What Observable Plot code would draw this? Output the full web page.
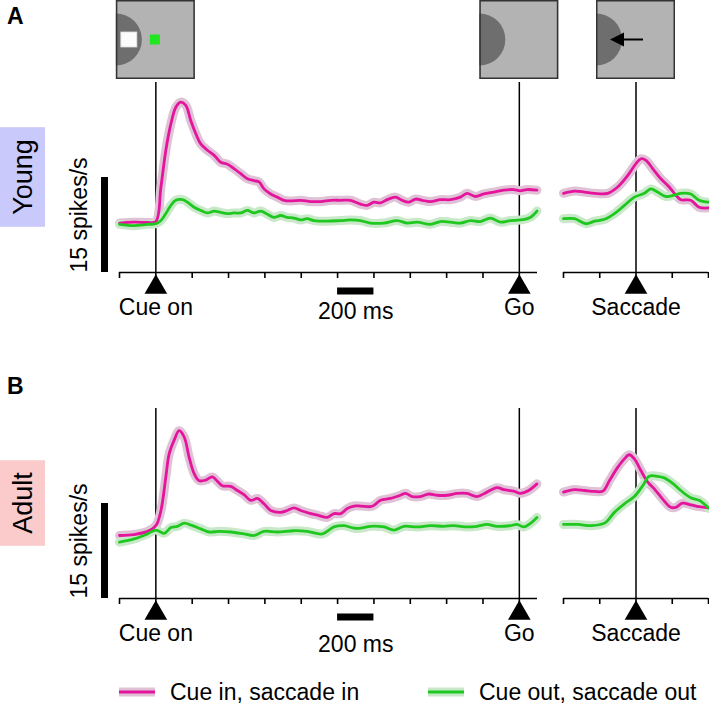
<!DOCTYPE html>
<html><head><meta charset="utf-8">
<script src="https://cdn.jsdelivr.net/npm/d3@7"></script>
<script src="https://cdn.jsdelivr.net/npm/@observablehq/plot@0.6"></script>
<style>
body{margin:0;background:#fff;}
#fig{position:relative;width:709px;height:708px;overflow:hidden;font-family:"Liberation Sans",Arial,sans-serif;background:#fff;}
#fig g[aria-label^="x-axis"] path,#fig g[aria-label^="x-axis"] line{stroke-width:1.6px;stroke:#000;}
</style>
</head><body><div id="fig"></div>
<script>
// ---------- data (time in ms, firing rate in spikes/s, arbitrary offset) ----------
const mainTicks = [-200, 0, 200, 400, 600, 800, 1000, 1200, 1400, 1600, 1800, 2000];
const saccTicks = [-400, -200, 0, 200, 400];
const mainEvents = [{t: 0, label: "Cue on"}, {t: 2000, label: "Go"}];
const saccEvents = [{t: 0, label: "Saccade"}];
const spikeBar = {value: 15, label: "15 spikes/s"};
const timeBar = {start: 1000, length: 200, label: "200 ms"};
const seriesNames = ["Cue in, saccade in", "Cue out, saccade out"];
const groupNames = ["Young", "Adult"];
const panelLetters = ["A", "B"];

const youngCueInMain = [
[-200,7.8],[-119,7.95],[-46,7.9],[0,8.05],[28,13.5],[55,19.3],[83,23.5],[110,26.1],[137,26.9],[165,26.4],[192,24.0],[220,21.9],[247,20.3],[284,19.3],[321,18.5],[357,17.4],[394,17.1],[430,16.4],[467,15.6],[504,14.8],[540,14.5],[568,14.3],[595,13.2],[632,12.4],[668,11.9],[705,11.4],[742,11.3],[797,11.4],[852,11.2],[907,11.2],[962,11.4],[1017,11.4],[1071,11.4],[1126,10.8],[1163,10.6],[1200,11.1],[1236,11.0],[1273,11.5],[1319,11.9],[1355,11.4],[1392,11.1],[1429,11.6],[1465,11.4],[1511,11.2],[1566,11.5],[1621,11.5],[1676,11.9],[1712,12.5],[1758,12.0],[1804,12.4],[1859,12.7],[1914,13.0],[1969,13.1],[2005,12.9],[2042,13.1],[2097,13.0]];
const youngCueOutMain = [
[-200,7.6],[-119,7.4],[-46,7.6],[0,7.7],[28,8.2],[55,9.3],[83,10.6],[110,11.4],[147,11.5],[174,11.1],[211,10.3],[247,9.8],[284,9.4],[321,9.7],[357,9.5],[394,9.3],[430,9.4],[467,9.4],[504,9.8],[540,9.4],[577,9.7],[614,9.2],[650,8.7],[687,9.0],[723,8.7],[760,8.6],[797,8.3],[833,8.5],[870,8.2],[943,8.1],[1017,8.2],[1071,8.3],[1126,8.2],[1181,7.8],[1255,7.8],[1328,8.2],[1383,7.8],[1438,7.95],[1511,7.6],[1566,8.05],[1621,7.95],[1676,7.8],[1731,8.2],[1786,8.05],[1841,8.6],[1896,7.95],[1951,8.2],[2006,8.3],[2060,8.7],[2097,9.7]];
const youngCueInSacc = [
[-400,12.5],[-339,12.85],[-284,12.7],[-229,12.5],[-156,12.5],[-101,13.5],[-46,15.3],[0,17.2],[27,17.95],[55,17.7],[92,16.4],[137,14.8],[183,13.5],[220,12.2],[247,11.5],[302,11.4],[348,10.3],[400,10.2]];
const youngCueOutSacc = [
[-400,8.5],[-339,8.5],[-275,7.7],[-229,8.1],[-174,8.4],[-119,9.3],[-64,10.6],[-9,11.9],[46,12.5],[82,13.2],[119,12.7],[165,12.0],[211,12.2],[247,12.5],[302,12.4],[348,11.4],[400,11.1]];
const adultCueInMain = [
[-200,9.95],[-119,10.1],[-46,10.6],[0,11.5],[28,13.9],[55,19.2],[73,22.8],[101,25.0],[128,26.5],[156,25.5],[183,22.3],[211,19.7],[238,18.6],[275,18.7],[311,19.2],[339,18.5],[366,17.8],[412,17.7],[449,17.05],[485,16.4],[522,15.5],[559,15.8],[595,14.95],[632,13.9],[687,13.6],[723,13.9],[760,14.3],[797,13.9],[852,13.4],[897,13.1],[943,12.8],[980,13.4],[1017,13.4],[1053,14.2],[1090,14.6],[1126,14.6],[1181,14.5],[1200,14.7],[1236,15.5],[1291,15.8],[1346,16.3],[1374,16.6],[1410,16.1],[1456,16.1],[1502,16.5],[1548,16.3],[1603,16.3],[1658,16.6],[1712,16.6],[1767,16.1],[1822,16.8],[1877,17.5],[1914,17.2],[1969,16.95],[2006,16.6],[2051,17.05],[2097,18.1]];
const adultCueOutMain = [
[-200,8.9],[-119,9.4],[-46,10.2],[0,10.8],[46,10.3],[83,11.2],[119,11.4],[156,11.9],[201,11.5],[247,11.0],[293,10.5],[348,10.6],[412,10.5],[485,10.2],[540,9.95],[595,10.6],[669,10.5],[760,10.7],[833,10.6],[916,10.2],[980,11.3],[1035,11.5],[1090,11.1],[1126,11.1],[1181,11.4],[1255,11.3],[1310,10.8],[1365,11.4],[1438,11.3],[1511,11.5],[1584,11.4],[1639,11.5],[1712,11.3],[1767,11.4],[1822,11.7],[1877,11.4],[1951,11.5],[1987,11.7],[2024,11.3],[2070,12.05],[2097,12.8]];
const adultCueInSacc = [
[-400,16.8],[-339,17.2],[-284,17.05],[-229,16.9],[-183,16.95],[-147,18.6],[-101,20.7],[-64,22.05],[-37,22.7],[-9,22.05],[27,20.2],[64,18.4],[101,17.3],[147,15.7],[192,14.4],[220,14.4],[256,15.05],[302,14.8],[348,14.5],[400,14.3]];
const adultCueOutSacc = [
[-400,11.7],[-321,11.7],[-247,11.5],[-174,11.9],[-119,13.6],[-64,14.95],[-9,16.1],[37,17.8],[73,19.3],[119,19.3],[156,19.05],[201,18.2],[247,17.05],[302,15.9],[348,15.5],[400,14.3]];

// ---------- styles ----------
const FONT = '"Liberation Sans", Arial, sans-serif';
const IN_COLOR = "#e4149c", IN_BAND = "#dfc2d6";
const OUT_COLOR = "#1fc81f", OUT_BAND = "#c9e8c9";
const fig = document.getElementById("fig");

function curveMarks(cueIn, cueOut) {
  const o = {x: d => d[0], y: d => d[1], curve: "catmull-rom"};
  return [
    Plot.line(cueIn, {...o, stroke: IN_BAND, strokeWidth: 9}),
    Plot.line(cueOut, {...o, stroke: OUT_BAND, strokeWidth: 9}),
    Plot.line(cueIn, {...o, stroke: IN_COLOR, strokeWidth: 2.8}),
    Plot.line(cueOut, {...o, stroke: OUT_COLOR, strokeWidth: 2.8})
  ];
}
function eventMarks(events) {
  return [
    Plot.dot(events, {x: "t", y: () => 0, symbol: "triangle", r: 8.4, fill: "black", dy: 14.7}),
    Plot.text(events, {x: "t", y: () => 0, text: "label", dy: 35, fontSize: 23, fill: "black"})
  ];
}
const common = {
  height: 335, marginTop: 82, marginBottom: 63,
  y: {domain: [0, 30], axis: null},
  style: {background: "transparent", overflow: "visible", fontFamily: FONT, color: "black"}
};
function mainPlot(cueIn, cueOut, msDy) {
  return Plot.plot({
    ...common, width: 545, marginLeft: 119, marginRight: 8,
    x: {domain: [-200, 2100], ticks: mainTicks, tickSize: 6, tickFormat: () => "", label: null},
    marks: [
      Plot.ruleX(mainEvents, {x: "t", stroke: "black", strokeWidth: 1.5}),
      Plot.ruleY([0], {stroke: "black", strokeWidth: 1.6}),
      ...curveMarks(cueIn, cueOut),
      ...eventMarks(mainEvents),
      Plot.ruleX([spikeBar], {x: () => -200, y1: () => 0, y2: d => d.value, dx: -15, stroke: "black", strokeWidth: 7}),
      Plot.text([spikeBar], {x: () => -200, y: () => 0, text: "label", rotate: -90, textAnchor: "start", dx: -40, fontSize: 23, fill: "black"}),
      Plot.ruleY([timeBar], {y: () => 0, x1: d => d.start, x2: d => d.start + d.length, dy: 18.5, stroke: "black", strokeWidth: 7}),
      Plot.text([timeBar], {x: d => d.start + d.length / 2, y: () => 0, text: "label", dy: msDy, fontSize: 23, fill: "black"})
    ]
  });
}
function saccPlot(cueIn, cueOut) {
  return Plot.plot({
    ...common, width: 156, marginLeft: 10, marginRight: 1,
    x: {domain: [-400, 400], ticks: saccTicks, tickSize: 6, tickFormat: () => "", label: null},
    marks: [
      Plot.ruleX(saccEvents, {x: "t", stroke: "black", strokeWidth: 1.5}),
      Plot.ruleY([0], {stroke: "black", strokeWidth: 1.6}),
      ...curveMarks(cueIn, cueOut),
      ...eventMarks(saccEvents)
    ]
  });
}
function place(svg, left, top) {
  svg.style.position = "absolute";
  svg.style.left = left + "px";
  svg.style.top = top + "px";
  fig.appendChild(svg);
  return svg;
}
const SACC_LEFT = 553, B_TOP = 326;
const pAm = place(mainPlot(youngCueInMain, youngCueOutMain, 39.5), 0, 0);
const pAs = place(saccPlot(youngCueInSacc, youngCueOutSacc), SACC_LEFT, 0);
const pBm = place(mainPlot(adultCueInMain, adultCueOutMain, 46), 0, B_TOP);
const pBs = place(saccPlot(adultCueInSacc, adultCueOutSacc), SACC_LEFT, B_TOP);

// ---------- overlay: insets, group labels, letters, legend ----------
const ov = d3.select(fig).append("svg").attr("width", 709).attr("height", 708)
  .style("position", "absolute").style("left", "0px").style("top", "0px")
  .style("font-family", FONT);

function inset(cx, kind) {
  const s = 79, g = ov.append("g").attr("transform", `translate(${cx - s / 2},0)`);
  g.append("rect").attr("x", 0).attr("y", 0).attr("width", s).attr("height", s).attr("fill", "#b3b3b3");
  g.append("path").attr("d", `M0,${s / 2 - 26} A26,26 0 0 1 0,${s / 2 + 26} Z`).attr("fill", "#6e6e6e");
  if (kind === "cue") {
    g.append("rect").attr("x", 5).attr("y", 32).attr("width", 16).attr("height", 15).attr("fill", "#fbfbfb").attr("stroke", "#ddd").attr("stroke-width", 0.8);
    g.append("rect").attr("x", 34).attr("y", 34.5).attr("width", 10).attr("height", 10).attr("fill", "#1fe61f");
  } else if (kind === "sacc") {
    g.append("line").attr("x1", 26).attr("x2", 47).attr("y1", s / 2).attr("y2", s / 2).attr("stroke", "black").attr("stroke-width", 2);
    g.append("path").attr("d", `M14,${s / 2} L28,${s / 2 - 7} L28,${s / 2 + 7} Z`).attr("fill", "black");
  }
  g.append("rect").attr("x", 0.75).attr("y", 0.75).attr("width", s - 1.5).attr("height", s - 1.5)
    .attr("fill", "none").attr("stroke", "#333").attr("stroke-width", 1.5);
}
const xAm = pAm.scale("x"), xAs = pAs.scale("x");
inset(xAm.apply(mainEvents[0].t), "cue");
inset(xAm.apply(mainEvents[1].t), "go");
inset(SACC_LEFT + xAs.apply(saccEvents[0].t), "sacc");

function groupLabel(name, cy, color) {
  const g = ov.append("g");
  const rect = g.append("rect").attr("fill", color);
  const t = g.append("text").text(name).attr("font-size", 27).attr("fill", "black")
    .attr("text-anchor", "middle")
    .attr("transform", `translate(32,${cy}) rotate(-90)`);
  const len = t.node().getComputedTextLength();
  const h = len + 24;
  rect.attr("x", 0).attr("y", cy - h / 2).attr("width", 45).attr("height", h);
}
groupLabel(groupNames[0], pAm.scale("y").apply(spikeBar.value), "#c9c9fb");
groupLabel(groupNames[1], B_TOP + pBm.scale("y").apply(spikeBar.value), "#fbcaca");

ov.append("text").text(panelLetters[0]).attr("x", 7).attr("y", 24).attr("font-size", 23).attr("font-weight", "bold");
ov.append("text").text(panelLetters[1]).attr("x", 7).attr("y", 394).attr("font-size", 23).attr("font-weight", "bold");

const legendItems = [
  {name: seriesNames[0], color: IN_COLOR, band: IN_BAND, x: 119},
  {name: seriesNames[1], color: OUT_COLOR, band: OUT_BAND, x: 428}
];
for (const it of legendItems) {
  ov.append("line").attr("x1", it.x).attr("x2", it.x + 36).attr("y1", 692).attr("y2", 692).attr("stroke", it.band).attr("stroke-width", 9);
  ov.append("line").attr("x1", it.x).attr("x2", it.x + 36).attr("y1", 692).attr("y2", 692).attr("stroke", it.color).attr("stroke-width", 3);
  ov.append("text").text(it.name).attr("x", it.x + 51).attr("y", 700).attr("font-size", 23).attr("fill", "black");
}
</script></body></html>
